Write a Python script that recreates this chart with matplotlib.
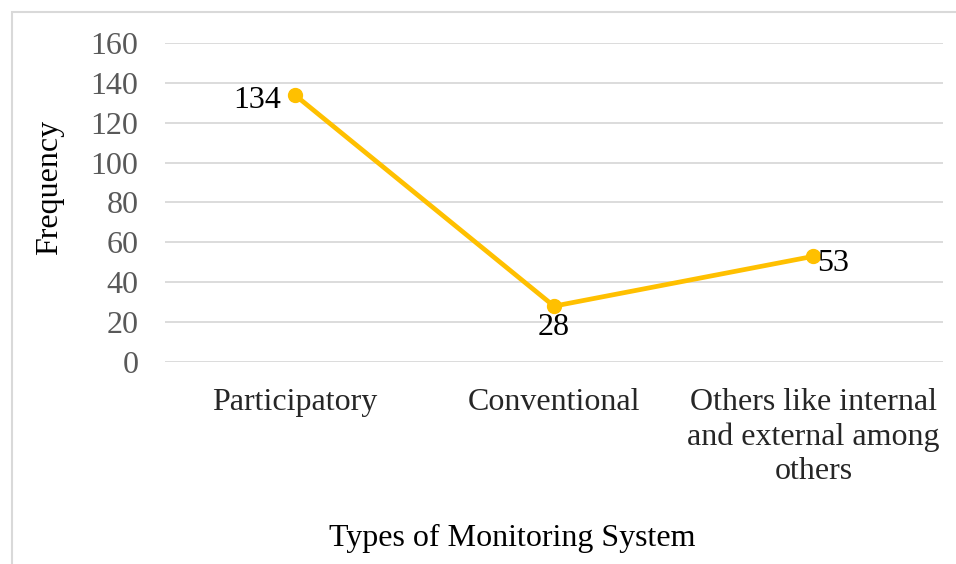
import matplotlib.pyplot as plt
from matplotlib.patches import Rectangle

# data
categories = ['Participatory', 'Conventional', 'Others like internal\nand external among\nothers']
frequency = [134, 28, 53]
yticks = [0, 20, 40, 60, 80, 100, 120, 140, 160]

plt.rcParams['font.family'] = ['Liberation Serif', 'DejaVu Serif']
fs = 23

fig = plt.figure(figsize=(9.56, 5.64), dpi=100)
ax = fig.add_axes([0.1726, 0.3582, 0.8138, 0.5656])

# outer chart frame (cut off at right and bottom like the original)
fig.patches.append(Rectangle((12 / 956, -0.1), 1.2, 1.1 - 12 / 564,
                             transform=fig.transFigure, fill=False,
                             edgecolor='#d9d9d9', linewidth=1.5))

x = range(len(categories))
ax.plot(x, frequency, color='#FFC000', linewidth=3.4, marker='o',
        markersize=10, solid_capstyle='round', zorder=3)

# data labels
ax.annotate(str(frequency[0]), (0, frequency[0]), xytext=(-10, -4),
            textcoords='offset points', ha='right', va='center', fontsize=fs)
ax.annotate(str(frequency[1]), (1, frequency[1]), xytext=(0, -5),
            textcoords='offset points', ha='center', va='top', fontsize=fs)
ax.annotate(str(frequency[2]), (2, frequency[2]), xytext=(3, -5),
            textcoords='offset points', ha='left', va='center', fontsize=fs)

ax.set_xlim(-0.5, 2.5)
ax.set_ylim(0, 160)
ax.set_yticks(yticks)
ax.set_xticks(list(x))
ax.set_xticklabels(categories, fontsize=fs, color='#262626', linespacing=1.22)
ax.tick_params(axis='y', labelsize=fs, labelcolor='#595959', length=0, pad=19)
ax.tick_params(axis='x', length=0, pad=19)
ax.grid(axis='y', color='#d9d9d9', linewidth=1.3)
ax.set_axisbelow(True)
for s in ax.spines.values():
    s.set_visible(False)

fig.text(50 / 956, 1 - 187 / 564, 'Frequency', rotation=90, ha='center',
         va='center', fontsize=fs)
fig.text(512 / 956, 1 - 538 / 564, 'Types of Monitoring System', ha='center',
         va='center', fontsize=fs)

fig.savefig('out.png', dpi=100)
